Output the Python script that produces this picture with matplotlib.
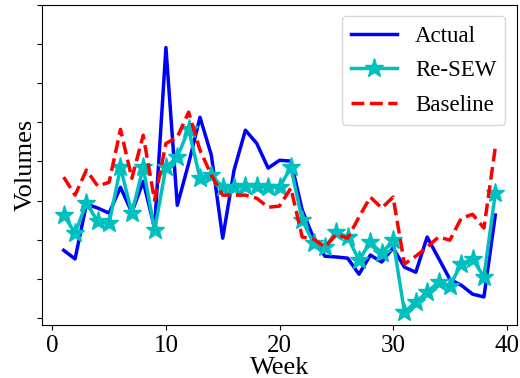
import numpy as np
import matplotlib
matplotlib.use("Agg")
import matplotlib.pyplot as plt

# -----------------------------
# Data (weekly volumes, arbitrary units)
# -----------------------------
weeks = list(range(1, 40))

actual = [1.73, 1.51, 2.91, 2.81, 2.68, 3.34, 2.70, 3.49, 2.30, 6.91,
          2.88, 3.95, 5.13, 4.16, 2.04, 3.78, 4.80, 4.46, 3.83, 4.03,
          4.01, 2.76, 2.04, 1.58, 1.56, 1.53, 1.12, 1.61, 1.43, 1.79,
          1.30, 1.17, 2.07, 1.53, 0.99, 0.84, 0.61, 0.54, 2.63]

re_sew = [2.63, 2.17, 2.93, 2.47, 2.42, 3.85, 2.68, 3.85, 2.24, 3.85,
          4.11, 4.82, 3.57, 3.65, 3.34, 3.34, 3.37, 3.37, 3.34, 3.34,
          3.85, 2.50, 1.91, 1.81, 2.19, 2.07, 1.48, 1.94, 1.66, 1.99,
          0.15, 0.41, 0.66, 0.92, 0.82, 1.38, 1.51, 1.05, 3.19]

baseline = [3.60, 3.14, 3.78, 3.37, 3.47, 4.82, 3.57, 4.67, 3.01, 4.46,
            4.62, 5.26, 4.29, 3.65, 3.14, 3.14, 3.14, 3.06, 2.83, 2.86,
            3.32, 2.07, 2.02, 1.81, 2.14, 2.04, 2.58, 3.09, 2.81, 3.09,
            1.38, 1.58, 1.81, 2.07, 1.99, 2.55, 2.65, 2.30, 4.36]

# -----------------------------
# Visualization
# -----------------------------
plt.rcParams["font.family"] = ["Liberation Serif", "DejaVu Serif"]

fig = plt.figure(figsize=(5.2, 3.78), dpi=100)
ax = fig.add_axes([0.081, 0.140, 0.913, 0.847])

ax.plot(weeks, actual, color="blue", lw=2.5, label="Actual")
ax.plot(weeks, re_sew, color="c", lw=2.5, marker="*", markersize=14,
        label="Re-SEW")
ax.plot(weeks, baseline, color="red", lw=2.5, ls="--", label="Baseline")

ax.set_ylim(-0.18, 8.0)
ax.set_yticks(np.arange(0, 9))
ax.set_yticklabels([])
ax.set_xticks([0, 10, 20, 30, 40])
ax.tick_params(axis="x", labelsize=18)
ax.set_xlabel("Week", fontsize=19, labelpad=0)
ax.set_ylabel("Volumes", fontsize=19, labelpad=-3)

ax.legend(loc="upper right", fontsize=16.5, handlelength=2.0,
          handletextpad=0.8, labelspacing=0.6)

fig.savefig("out.png", dpi=100)
